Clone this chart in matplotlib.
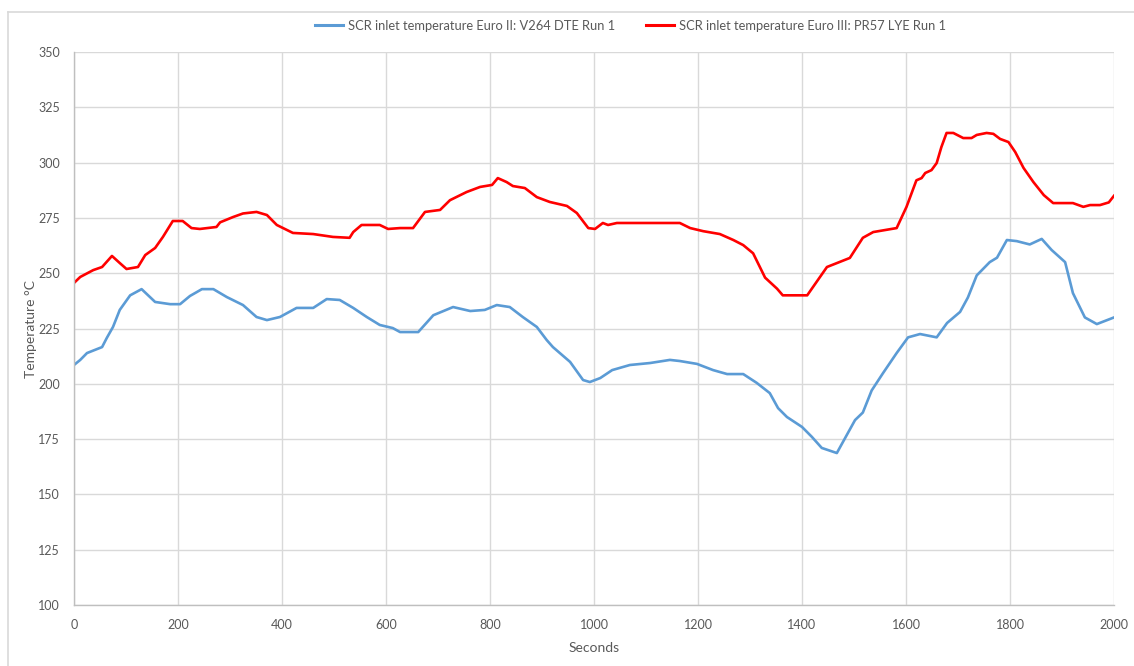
import matplotlib
matplotlib.use("Agg")
import matplotlib.pyplot as plt
from matplotlib.lines import Line2D

# ---- data -------------------------------------------------------------------
euro2_label = "SCR inlet temperature Euro II: V264 DTE Run 1"
euro2_t = [0, 12, 25, 40, 54, 63, 75, 88, 108, 130, 156, 185, 204, 223, 246,
           268, 294, 325, 351, 371, 396, 428, 460, 486, 511, 537, 563, 588,
           613, 627, 662, 691, 729, 762, 790, 813, 838, 863, 890, 909, 921,
           954, 979, 992, 1012, 1035, 1069, 1108, 1146, 1165, 1198, 1229,
           1256, 1287, 1313, 1338, 1354, 1371, 1400, 1419, 1438, 1467, 1486,
           1502, 1517, 1534, 1556, 1582, 1604, 1627, 1659, 1679, 1704, 1719,
           1736, 1761, 1775, 1794, 1813, 1838, 1861, 1880, 1906, 1921, 1944,
           1967, 2000]
euro2_T = [208.5, 210.8, 213.9, 215.3, 216.6, 220.7, 225.7, 233.4, 240.0,
           242.8, 237.0, 236.0, 236.0, 239.7, 242.8, 242.8, 239.2, 235.6,
           230.2, 228.8, 230.2, 234.3, 234.3, 238.3, 237.9, 234.3, 230.2,
           226.6, 225.2, 223.4, 223.4, 231.0, 234.7, 232.9, 233.4, 235.6,
           234.7, 230.2, 225.7, 219.8, 216.6, 209.9, 201.7, 200.8, 202.6,
           206.2, 208.5, 209.4, 210.8, 210.3, 209.0, 206.2, 204.4, 204.4,
           200.4, 195.8, 189.0, 185.0, 180.5, 176.0, 171.0, 168.7, 176.8,
           183.6, 187.0, 197.0, 204.9, 213.9, 221.0, 222.5, 221.0, 227.5,
           232.5, 239.0, 249.0, 255.0, 257.0, 265.0, 264.5, 263.0, 265.5,
           260.5, 255.0, 241.0, 230.0, 227.0, 230.0]

euro3_label = "SCR inlet temperature Euro III: PR57 LYE Run 1"
euro3_t = [0, 12, 37, 54, 73, 88, 101, 123, 137, 156, 171, 190, 209, 226,
           242, 274, 281, 306, 325, 351, 371, 390, 421, 460, 498, 530, 537,
           553, 588, 604, 627, 652, 675, 704, 723, 755, 781, 804, 815, 832,
           844, 867, 890, 915, 948, 967, 989, 1002, 1017, 1027, 1044, 1165,
           1185, 1210, 1242, 1268, 1287, 1306, 1329, 1352, 1363, 1410, 1448,
           1492, 1517, 1537, 1582, 1601, 1620, 1630, 1637, 1649, 1659, 1668,
           1678, 1691, 1710, 1726, 1736, 1755, 1768, 1781, 1797, 1810, 1826,
           1845, 1865, 1883, 1921, 1941, 1954, 1973, 1990, 2000]
euro3_T = [245.6, 248.3, 251.4, 252.8, 257.8, 254.6, 251.9, 252.8, 258.2,
           261.4, 266.4, 273.6, 273.6, 270.4, 270.0, 270.9, 273.0, 275.4,
           277.0, 277.7, 276.3, 271.8, 268.2, 267.7, 266.4, 266.0, 268.6,
           271.8, 271.8, 270.0, 270.4, 270.4, 277.7, 278.6, 283.0, 286.7,
           289.0, 289.9, 293.0, 291.2, 289.4, 288.5, 284.4, 282.2, 280.4,
           277.2, 270.4, 270.0, 272.7, 271.8, 272.7, 272.7, 270.4, 269.0,
           267.7, 265.0, 262.7, 259.0, 248.0, 243.0, 240.0, 240.0, 252.8,
           256.9, 266.0, 268.6, 270.4, 280.0, 292.0, 293.0, 295.3, 296.6,
           299.8, 307.0, 313.4, 313.4, 311.1, 311.1, 312.5, 313.4, 313.0,
           310.7, 309.3, 304.8, 297.6, 291.2, 285.3, 281.7, 281.7, 280.0,
           280.8, 280.8, 282.0, 285.0]

x_ticks = list(range(0, 2001, 200))
y_ticks = list(range(100, 351, 25))

BLUE = "#5b9bd5"
RED = "#ff0000"
TXT = "#595959"
GRID = "#d9d9d9"

plt.rcParams["font.family"] = ["Lato", "DejaVu Sans"]

fig = plt.figure(figsize=(11.34, 6.66), dpi=100)
ax = fig.add_axes([74 / 1134, 1 - 605 / 666, 1040 / 1134, 553 / 666])

ax.plot(euro2_t, euro2_T, color=BLUE, lw=1.9, solid_joinstyle="round")
ax.plot(euro3_t, euro3_T, color=RED, lw=1.9, solid_joinstyle="round")

ax.set_xlim(0, 2000)
ax.set_ylim(100, 350)
ax.set_xticks(x_ticks)
ax.set_yticks(y_ticks)
ax.grid(True, color=GRID, lw=1.0)
ax.set_axisbelow(True)
for side in ("top", "right"):
    ax.spines[side].set_visible(False)
for side in ("left", "bottom"):
    ax.spines[side].set_color("#bfbfbf")
    ax.spines[side].set_linewidth(1.0)
ax.tick_params(length=0, labelsize=9, colors=TXT, pad=10)
ax.set_xlabel("Seconds", fontsize=10, color=TXT, labelpad=8)
ax.set_ylabel("Temperature °C", fontsize=10, color=TXT, labelpad=1)

# legend across the top, Excel style
handles = [Line2D([], [], color=BLUE, lw=2.2), Line2D([], [], color=RED, lw=2.2)]
fig.legend(handles, [euro2_label, euro3_label], loc="center",
           bbox_to_anchor=(0.556, 1 - 26 / 666), ncol=2, frameon=False,
           fontsize=9.3, labelcolor=TXT, handlelength=2.2, handletextpad=0.35,
           columnspacing=2.4)

# outer chart-area frame (left and top edges visible)
fig.add_artist(Line2D([8 / 1134, 8 / 1134], [0, 1 - 12 / 666],
                      transform=fig.transFigure, color=GRID, lw=1.2))
fig.add_artist(Line2D([8 / 1134, 1], [1 - 12 / 666, 1 - 12 / 666],
                      transform=fig.transFigure, color=GRID, lw=1.2))

fig.savefig("out.png", dpi=100)
